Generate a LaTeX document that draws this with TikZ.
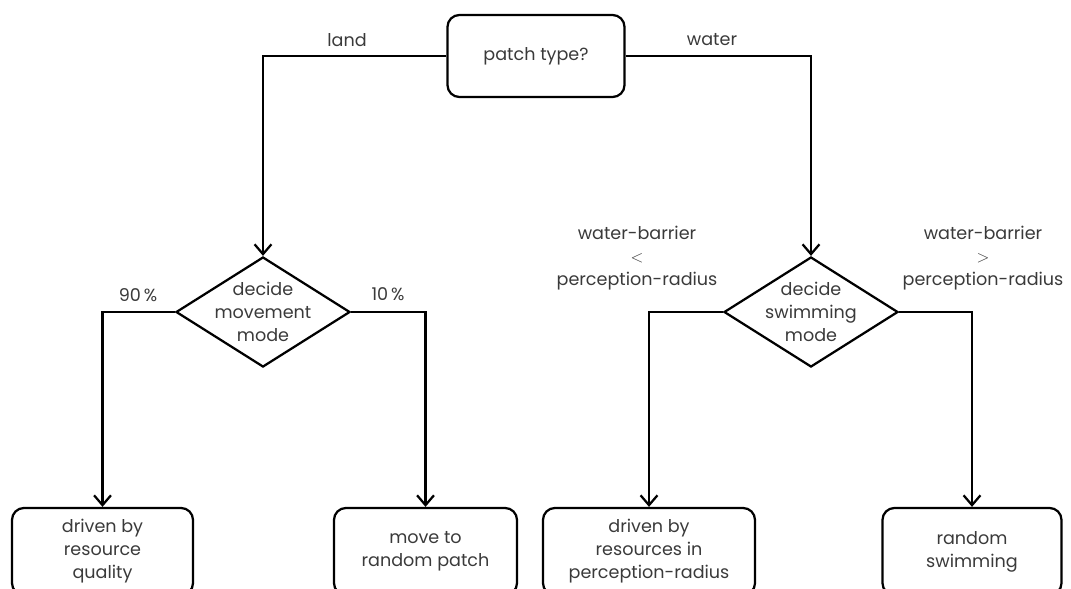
\documentclass[tikz,border=0pt]{standalone}
\usepackage{fontspec}
\setmainfont{Poppins}
\usetikzlibrary{shapes.geometric,arrows.meta}
\definecolor{label-grey}{HTML}{3A3A3A}

\begin{document}
\begin{tikzpicture}[x=0.025cm, y=-0.025cm,
      every node/.style={font=\fontsize{12.5}{16.4}\selectfont, text=label-grey},
      box/.style={draw=black, line width=1.6pt, rounded corners=8.5pt,
            align=center, inner sep=0pt},
      decide/.style={diamond, draw=black, line width=1.6pt,
            inner sep=0pt, minimum width=4.35cm, minimum height=2.75cm},
      conn/.style={line width=1.6pt, -{Straight Barb[length=7pt, width=12pt]}}]
    \useasboundingbox (0,0) rectangle (1071,588);
    \node[box, minimum width=4.425cm, minimum height=2.05cm] (patch) at (536,56) {patch type?};
    \node[decide, label={[align=center]center:decide\\movement\\mode}] (movement) at (263,312) {};
    \node[decide, label={[align=center]center:decide\\swimming\\mode}] (swimming) at (811,312) {};
    \node[box, minimum width=4.525cm, minimum height=2.175cm] (quality) at (102.5,551.5)
          {driven by\\resource\\quality};
    \node[box, minimum width=4.575cm, minimum height=2.175cm] (randpatch) at (425.5,551.5)
          {move to\\random patch};
    \node[box, minimum width=5.3cm, minimum height=2.175cm] (perception) at (649,551.5)
          {driven by\\resources in\\perception-radius};
    \node[box, minimum width=4.475cm, minimum height=2.175cm] (randswim) at (972,551.5)
          {random\\swimming};
    \draw[conn] (patch.west) -| (movement.north);
    \draw[conn] (patch.east) -| (swimming.north);
    \draw[conn] (movement.west) -| (quality.north);
    \draw[conn] (movement.east) -| (randpatch.north);
    \draw[conn] (swimming.west) -| (perception.north);
    \draw[conn] (swimming.east) -| (randswim.north);
    \node (land) at (347,40) {land};
    \node (water) at (712,40) {water};
    \node (ninety) at (138,295) {90\,\%};
    \node (ten) at (388,294) {10\,\%};
    \node[align=center] (less) at (637,258) {water-barrier\\$<$\\perception-radius};
    \node[align=center] (more) at (983,258) {water-barrier\\$>$\\perception-radius};
\end{tikzpicture}
\end{document}
